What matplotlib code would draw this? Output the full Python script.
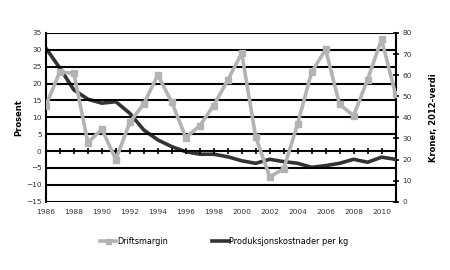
import matplotlib
matplotlib.use('Agg')
import matplotlib.pyplot as plt
import numpy as np

years = np.arange(1986, 2012)
driftsmargin = [13.5, 23.5, 23, 2.5, 6.5, -2.5, 8.5, 14, 22.5, 14.5, 4, 7.5, 13.5, 21,
                29, 4.2, -7.6, -5.3, 8.1, 23.4, 30.1, 13.8, 10.5, 21.2, 33.1, 16.8]
kostnad = [72.8, 63.3, 53, 48.6, 46.7, 47.4, 41.9, 34, 29.3, 26.1, 23.7, 22.5, 22.5, 21.3,
           19.4, 18.2, 20.1, 19, 18.2, 16.3, 17.1, 18.2, 20.1, 18.7, 21.1, 20.1]

plt.rcParams['font.family'] = 'DejaVu Sans'
fig = plt.figure(figsize=(4.5, 2.7), dpi=100)
ax = fig.add_axes([0.102, 0.253, 0.777, 0.625])
ax2 = ax.twinx()

for v in range(-15, 40, 5):
    ax.axhline(v, color='black', lw=1.5, zorder=1)
ax.plot(years, np.zeros(len(years)), ls='none', marker='|', ms=5, mew=1.2, color='black', zorder=2)

l1, = ax.plot(years, driftsmargin, color='#b3b3b3', lw=2.6, marker='s', ms=4.5, zorder=4, label='Driftsmargin')
l2, = ax2.plot(years, kostnad, color='#333333', lw=2.6, zorder=3, label='Produksjonskostnader per kg')

ax.set_xlim(1986, 2011)
ax.set_ylim(-15, 35)
ax.set_yticks(range(-15, 40, 5))
ax.set_xticks(range(1986, 2011, 2))
ax2.set_ylim(0, 80)
ax2.set_yticks(range(0, 90, 10))

ax.set_zorder(ax2.get_zorder() + 1)
ax.patch.set_visible(False)

for a in (ax, ax2):
    for s in a.spines.values():
        s.set_visible(False)
ax.spines['left'].set_visible(True)
ax.spines['left'].set_linewidth(1.5)
ax2.spines['right'].set_visible(True)
ax2.spines['right'].set_linewidth(1.5)

ax.tick_params(axis='x', length=0, labelsize=5.3, pad=5, colors='#333333')
ax.tick_params(axis='y', length=0, labelsize=5.3, pad=3, colors='#333333')
ax2.tick_params(axis='y', direction='inout', length=4, width=1.2, labelsize=5.3, pad=3, colors='black', labelcolor='#333333')

ax.set_ylabel('Prosent', fontsize=6, fontweight='bold', labelpad=2)
ax2.set_ylabel('Kroner, 2012-verdi', fontsize=6, fontweight='bold', labelpad=12)

fig.legend([l1, l2], ['Driftsmargin', 'Produksjonskostnader per kg'], loc='center left',
           bbox_to_anchor=(0.222, 0.105), ncol=2, frameon=False, fontsize=5.9,
           handlelength=2.0, handletextpad=0.1, columnspacing=5.4, markerscale=0.8,
           borderaxespad=0, borderpad=0)

fig.savefig('out.png', dpi=100)
